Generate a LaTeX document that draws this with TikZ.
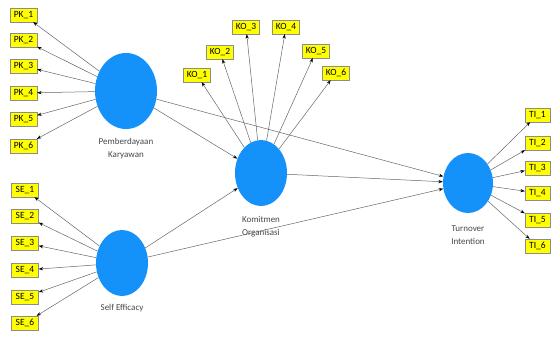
\documentclass[tikz,border=0pt]{standalone}
\usepackage{fontspec}
\setmainfont{Carlito}
\usetikzlibrary{shapes.geometric,arrows.meta}
\definecolor{lvblue}{RGB}{21,145,250}
\definecolor{ind}{RGB}{255,255,0}
\definecolor{lbl}{RGB}{70,70,70}
\begin{document}
\begin{tikzpicture}[x=1pt,y=-1pt,
  lv/.style={ellipse,fill=lvblue,draw=none,inner sep=0pt},
  mv/.style={rectangle,fill=ind,draw=black!45,line width=0.3pt,minimum width=27pt,minimum height=14pt,inner sep=1pt,font=\fontsize{9.5}{10}\selectfont},
  lab/.style={text=lbl,font=\fontsize{9}{13}\selectfont,align=center},
  con/.style={draw=black!60,line width=0.5pt,-{Stealth[length=4.5pt,width=3.2pt,color=black]}}
]
\useasboundingbox (0,0) rectangle (551,338);
% latent variables
\node[lv,minimum width=62pt,minimum height=76pt] (pk) at (126,91) {};
\node[lv,minimum width=52pt,minimum height=66pt] (se) at (122,263) {};
\node[lv,minimum width=52pt,minimum height=66pt] (ko) at (261,173) {};
\node[lv,minimum width=50pt,minimum height=60pt] (ti) at (468,183) {};
% labels
\node[lab] (pkl) at (126,149) {Pemberdayaan\\Karyawan};
\node[lab] (sel) at (122,308) {Self Efficacy};
\node[lab] (kol) at (261,227) {Komitmen\\Organisasi};
\node[lab] (til) at (468,235) {Turnover\\Intention};
% PK indicators
\foreach \i/\y in {1/15,2/40,3/66,4/93,5/119,6/146}{
  \node[mv] (pk\i) at (23.5,\y) {PK\_\i};
  \draw[con] (pk) -- (pk\i);
}
% SE indicators
\foreach \i/\y in {1/190,2/216,3/243,4/270,5/297,6/323}{
  \node[mv] (se\i) at (25,\y) {SE\_\i};
  \draw[con] (se) -- (se\i);
}
% KO indicators
\foreach \i/\x/\y in {1/197/75,2/220/52,3/246/27,4/286/27,5/316/51,6/336/73}{
  \node[mv] (ko\i) at (\x,\y) {KO\_\i};
  \draw[con] (ko) -- (ko\i);
}
% TI indicators
\foreach \i/\y in {1/115,2/143,3/168,4/193,5/220,6/246}{
  \node[mv,minimum width=25pt] (ti\i) at (537.5,\y) {TI\_\i};
  \draw[con] (ti) -- (ti\i);
}
% structural paths
\draw[con] (pk) -- (ko);
\draw[con] (pk) -- (ti);
\draw[con] (se) -- (ko);
\draw[con] (se) -- (ti);
\draw[con] (ko) -- (ti);
\end{tikzpicture}
\end{document}
